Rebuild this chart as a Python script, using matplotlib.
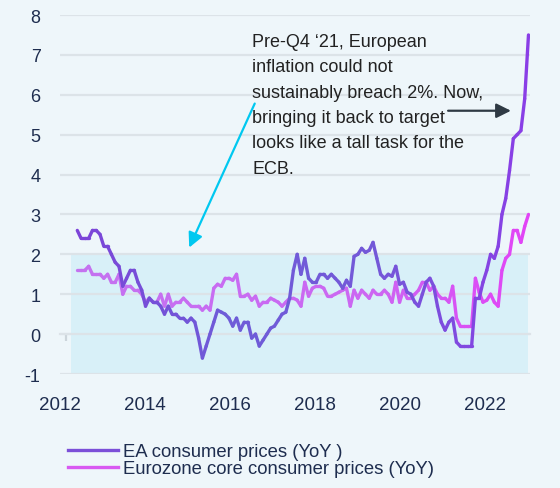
import numpy as np
import matplotlib
matplotlib.use("Agg")
import matplotlib.pyplot as plt
from matplotlib.collections import LineCollection
from matplotlib.colors import LinearSegmentedColormap
from matplotlib.lines import Line2D

plt.rcParams['font.family'] = ['Liberation Sans', 'DejaVu Sans']
plt.rcParams['axes.unicode_minus'] = False

# monthly data, Apr 2012 .. Mar 2022
ea_cpi = [2.6, 2.4, 2.4, 2.4, 2.6, 2.6, 2.5, 2.2, 2.2, 2.0, 1.8, 1.7,
          1.2, 1.4, 1.6, 1.6, 1.3, 1.1, 0.7, 0.9, 0.8, 0.8, 0.7, 0.5,
          0.7, 0.5, 0.5, 0.4, 0.4, 0.3, 0.4, 0.3, -0.1, -0.6, -0.3, 0.0,
          0.3, 0.6, 0.55, 0.5, 0.4, 0.2, 0.4, 0.1, 0.3, 0.3, -0.1, 0.0,
          -0.3, -0.15, 0.0, 0.15, 0.2, 0.35, 0.5, 0.55, 0.9, 1.6, 2.0, 1.5,
          1.9, 1.4, 1.3, 1.3, 1.5, 1.5, 1.4, 1.5, 1.4, 1.3, 1.15, 1.35,
          1.2, 1.95, 2.0, 2.15, 2.05, 2.1, 2.3, 1.9, 1.5, 1.4, 1.5, 1.45,
          1.7, 1.25, 1.3, 1.05, 1.0, 0.8, 0.7, 1.0, 1.3, 1.4, 1.2, 0.7,
          0.3, 0.1, 0.3, 0.4, -0.2, -0.3, -0.3, -0.3, -0.3, 0.9, 0.9, 1.3,
          1.6, 2.0, 1.9, 2.2, 3.0, 3.4, 4.1, 4.9, 5.0, 5.1, 5.9, 7.5]
core_cpi = [1.6, 1.6, 1.6, 1.7, 1.5, 1.5, 1.5, 1.4, 1.5, 1.3, 1.3, 1.5,
            1.0, 1.2, 1.2, 1.1, 1.1, 1.0, 0.8, 0.9, 0.8, 0.8, 1.0, 0.7,
            1.0, 0.7, 0.8, 0.8, 0.9, 0.8, 0.7, 0.7, 0.7, 0.6, 0.7, 0.6,
            1.15, 1.25, 1.2, 1.4, 1.4, 1.35, 1.5, 0.95, 0.95, 1.0, 0.85, 0.95,
            0.7, 0.8, 0.8, 0.9, 0.85, 0.8, 0.7, 0.8, 0.9, 0.9, 0.85, 0.7,
            1.3, 0.95, 1.15, 1.2, 1.2, 1.15, 0.95, 0.95, 1.0, 1.05, 1.1, 1.15,
            0.7, 1.1, 0.9, 1.1, 1.0, 0.9, 1.1, 1.0, 1.0, 1.1, 1.0, 0.8,
            1.3, 0.8, 1.1, 0.9, 0.9, 1.0, 1.1, 1.3, 1.3, 1.1, 1.2, 1.0,
            0.9, 0.9, 0.8, 1.2, 0.4, 0.2, 0.2, 0.2, 0.2, 1.4, 1.05, 0.8,
            0.85, 1.0, 0.8, 0.7, 1.6, 1.9, 2.0, 2.6, 2.6, 2.3, 2.7, 3.0]
year_labels = ['2012', '2014', '2016', '2018', '2020', '2022']
ea_label = 'EA consumer prices (YoY )'
core_label = 'Eurozone core consumer prices (YoY)'
note = ("Pre-Q4 \u201821, European\ninflation could not\n"
        "sustainably breach 2%. Now,\nbringing it back to target\n"
        "looks like a tall task for the\nECB.")

x = 2012 + (np.arange(len(ea_cpi)) + 3) / 12.0

bg = '#EEF6FA'
txt = '#1E2D4F'
grid_c = '#DCE3E8'


def gradient_line(ax, xs, ys, colors, lw, z):
    cmap = LinearSegmentedColormap.from_list('g', colors)
    pts = np.column_stack([xs, ys]).reshape(-1, 1, 2)
    segs = np.concatenate([pts[:-1], pts[1:]], axis=1)
    t = np.linspace(0, 1, len(segs))
    lc = LineCollection(segs, colors=cmap(t), linewidths=lw, zorder=z,
                        capstyle='round', joinstyle='round')
    ax.add_collection(lc, autolim=False)


fig = plt.figure(figsize=(5.6, 4.89), dpi=100, facecolor=bg)
ax = fig.add_axes([60/560, 1-375/489, 470/560, 359/489])
ax.set_facecolor(bg)
ax.set_xlim(2012.0, 2022.2)
ax.set_ylim(-1, 8)

# 2% "target" band
ax.fill_between([2012.11, 2022.15], -1, 2, color='#D8F0F8', zorder=0.1, lw=0)

ax.set_axisbelow(True)
ax.set_yticks(range(-1, 9))
ax.grid(axis='y', color=grid_c, lw=1.6)
ax.tick_params(axis='y', length=0, pad=14, labelsize=13, labelcolor=txt)
for s in ax.spines.values():
    s.set_visible(False)

# year labels (spread as in the original)
ax.set_xticks(np.linspace(2011.87, 2021.22, len(year_labels)))
ax.set_xticklabels(year_labels)
ax.tick_params(axis='x', length=0, pad=15.5, labelsize=13.5, labelcolor=txt)

# tick marks sitting on the zero line
sec = ax.secondary_xaxis(1/9)
sec.set_xticks(range(2012, 2023))
sec.set_xticklabels([])
sec.tick_params(length=5, width=1.6, color='#CCD5DB', direction='out')
sec.spines['bottom'].set_color(grid_c)
sec.spines['bottom'].set_linewidth(1.6)

gradient_line(ax, x, ea_cpi, ['#7C44D8', '#6E5CD8', '#7458D8', '#8A3EE6'], 2.4, 3)
gradient_line(ax, x, core_cpi, ['#C472F0', '#C86CF2', '#CC66F2', '#E244F6'], 2.4, 2.5)

fig.text(252/560, 1-34/489, note, fontsize=13, color='#222222', va='top',
         ha='left', linespacing=1.64)

ax.annotate('', xy=(2014.71, 2.17), xytext=(2016.15, 5.78),
            arrowprops=dict(arrowstyle='-|>', color='#00C8F0', lw=1.6,
                            mutation_scale=22, shrinkA=0, shrinkB=0))
ax.annotate('', xy=(2021.78, 5.6), xytext=(2020.4, 5.6),
            arrowprops=dict(arrowstyle='-|>', color='#2F3A44', lw=1.6,
                            mutation_scale=22, shrinkA=0, shrinkB=0))

handles = [Line2D([], [], color='#7B4FD8', lw=2.4),
           Line2D([], [], color='#D85AF2', lw=2.4)]
fig.legend(handles, [ea_label, core_label], loc='upper left',
           bbox_to_anchor=(68/560, 1-444/489), frameon=False,
           fontsize=13.3, labelcolor=txt, handlelength=2.7, handletextpad=0.3,
           labelspacing=0.02, borderaxespad=0, borderpad=0)

fig.savefig('out.png', dpi=100, facecolor=bg)
